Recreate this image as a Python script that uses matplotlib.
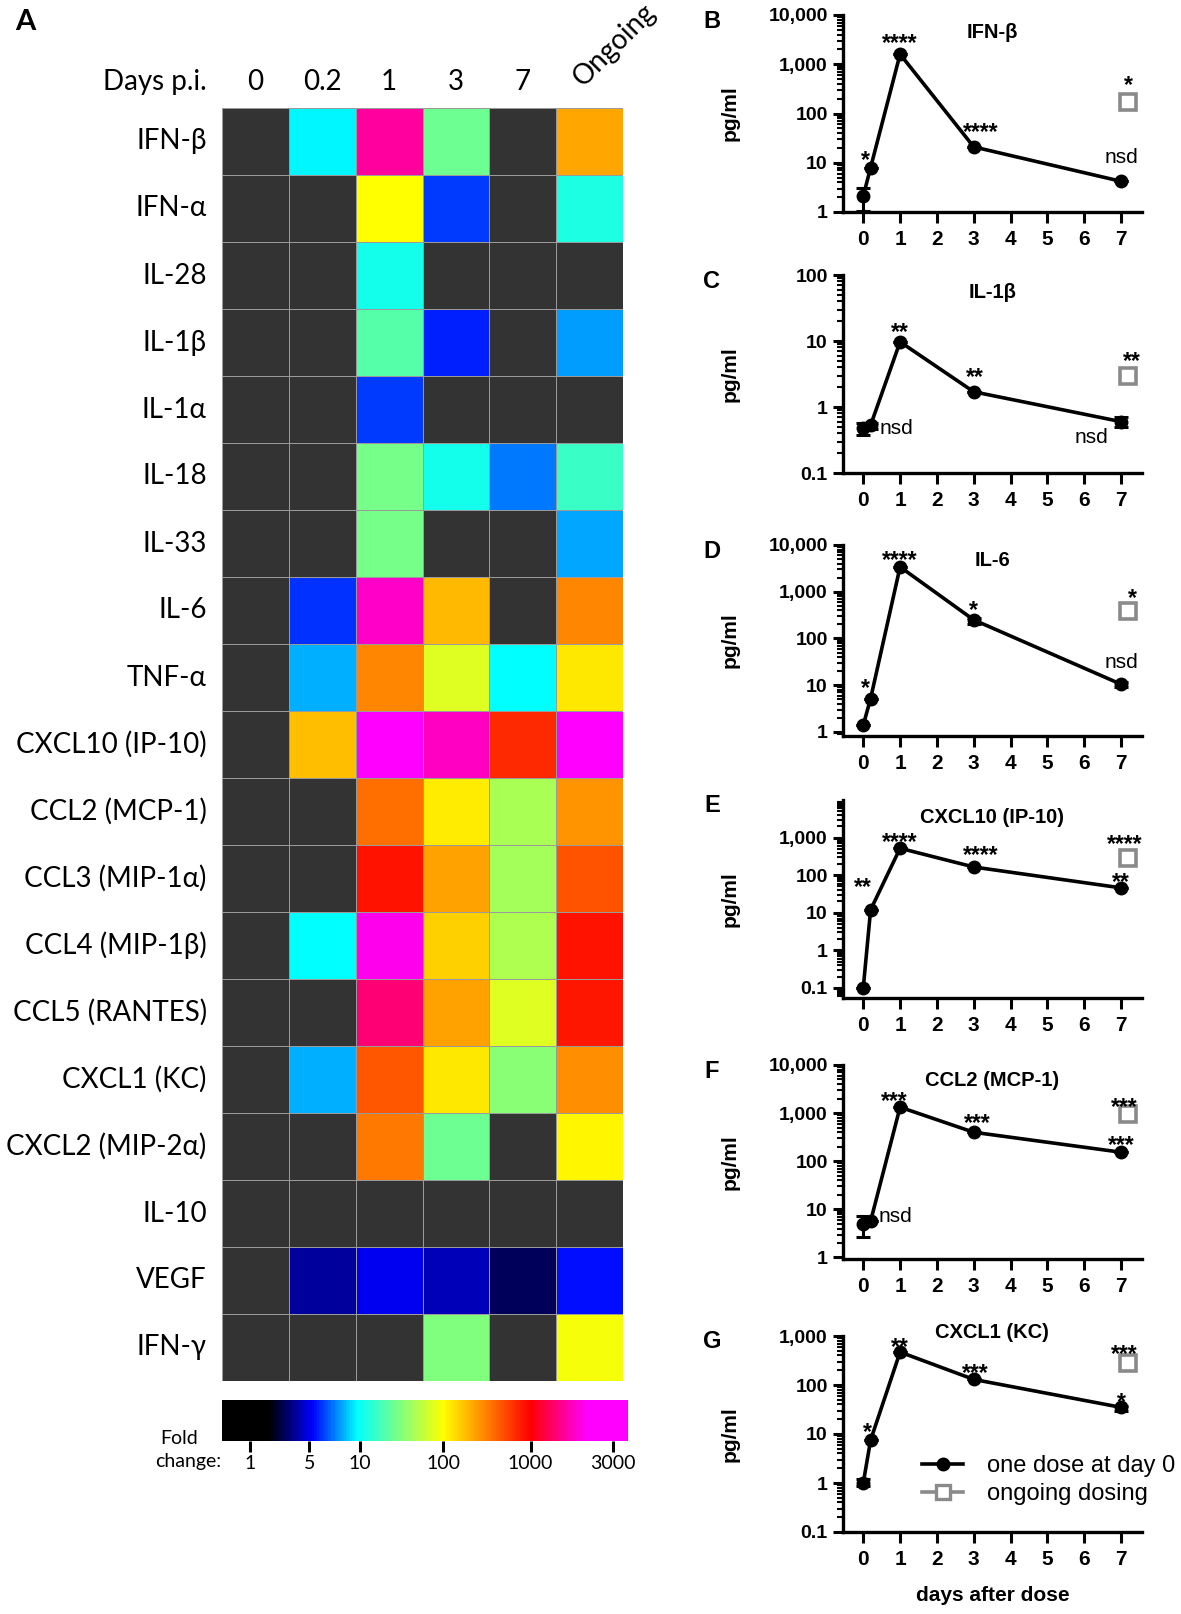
import numpy as np
import matplotlib
matplotlib.use("Agg")
import matplotlib.pyplot as plt
import matplotlib.colors as mcolors
import matplotlib.cm as cm
from matplotlib.ticker import FixedLocator, NullFormatter
from matplotlib.lines import Line2D

plt.rcParams['font.family'] = ['Liberation Sans', 'DejaVu Sans']
HEAT_FONT = ['Lato', 'DejaVu Sans']

W, H = 1181, 1614

# ---------------- heatmap data (fold change, nan = not significant) ----------------
cytokines = ["IFN-β", "IFN-α", "IL-28", "IL-1β", "IL-1α", "IL-18", "IL-33", "IL-6",
             "TNF-α", "CXCL10 (IP-10)", "CCL2 (MCP-1)", "CCL3 (MIP-1α)", "CCL4 (MIP-1β)",
             "CCL5 (RANTES)", "CXCL1 (KC)", "CXCL2 (MIP-2α)", "IL-10", "VEGF", "IFN-γ"]
day_cols = ["0", "0.2", "1", "3", "7"]
nan = np.nan
fold_change = np.array([
    [nan, 9.5, 1600, 26, nan, 220],
    [nan, nan, 100, 6, nan, 12],
    [nan, nan, 11, nan, nan, nan],
    [nan, nan, 21, 5.6, nan, 7.6],
    [nan, nan, 6, nan, nan, nan],
    [nan, nan, 28, 11, 7.0, 16],
    [nan, nan, 28, nan, nan, 7.8],
    [nan, 5.9, 1800, 190, nan, 295],
    [nan, 8, 295, 75, 9.6, 125],
    [nan, 180, 3000, 1750, 690, 3000],
    [nan, nan, 370, 120, 45, 260],
    [nan, nan, 830, 235, 43, 465],
    [nan, 9.6, 2000, 150, 47, 830],
    [nan, nan, 1390, 235, 75, 800],
    [nan, 8, 445, 125, 33, 270],
    [nan, nan, 340, 26, nan, 108],
    [nan, nan, nan, nan, nan, nan],
    [nan, 3.5, 5.1, 4.0, 2.5, 5.4],
    [nan, nan, nan, 30, nan, 92],
])
cbar_ticks = [1, 5, 10, 100, 1000, 3000]

# colour scale: position along the bar for each fold change
knot_log = np.array([-0.3375, 0, np.log10(5), 1, 2, 3, np.log10(3000), 3.564])
knot_pos = np.array([0, 0.07, 0.215, 0.34, 0.545, 0.76, 0.963, 1.0])

# ---------------- line panels (pg/ml) ----------------
days = [0, 0.2, 1, 3, 7]
ongoing_day = 7.2

panels = [
    dict(letter="B", title="IFN-β",
         mean=[2.1, 8.0, 1600, 21, 4.2], low=[1.05, 8.0, 1600, 21, 4.2], high=[3.1, 8.0, 1600, 21, 4.2],
         ongoing=175, ylim=(1, 10000), yticks=[1, 10, 100, 1000, 10000],
         ylabels=["1", "10", "100", "1,000", "10,000"], box=(15, 212), title_y=0.91,
         notes=[(0.2, 8.0, "*", -0.15, 15), (1, 1600, "****", 0, 18), (3, 21, "****", 0.2, 22),
                (7, 4.2, "nsd", 0, 24), (ongoing_day, 175, "*", 0, 24)]),
    dict(letter="C", title="IL-1β",
         mean=[0.48, 0.53, 9.7, 1.7, 0.6], low=[0.37, 0.47, 9.7, 1.7, 0.5], high=[0.57, 0.57, 9.7, 1.7, 0.7],
         ongoing=2.9, ylim=(0.1, 100), yticks=[0.1, 1, 10, 100],
         ylabels=["0.1", "1", "10", "100"], box=(275, 473), title_y=0.91,
         notes=[(0.45, 0.53, "nsd", "left", -3), (1, 9.7, "**", 0, 17), (3, 1.7, "**", 0.04, 22),
                (6.65, 0.6, "nsd", "right", -15), (ongoing_day, 2.9, "**", 0.1, 22)]),
    dict(letter="D", title="IL-6",
         mean=[1.4, 5.2, 3400, 250, 10.5], low=[1.4, 5.2, 3400, 205, 9], high=[1.4, 5.2, 3400, 280, 12],
         ongoing=390, ylim=(0.82, 10000), yticks=[1, 10, 100, 1000, 10000],
         ylabels=["1", "10", "100", "1,000", "10,000"], box=(545, 736), title_y=0.92,
         notes=[(0.2, 5.2, "*", -0.15, 17), (1, 3400, "****", 0, 14), (3, 250, "*", 0, 17),
                (7, 10.5, "nsd", 0, 22), (ongoing_day, 390, "*", 0.1, 20)]),
    dict(letter="E", title="CXCL10 (IP-10)",
         mean=[0.1, 12, 520, 165, 46], low=[0.1, 12, 520, 165, 46], high=[0.1, 12, 520, 165, 46],
         ongoing=290, ylim=(0.054, 10000), yticks=[0.1, 1, 10, 100, 1000],
         ylabels=["0.1", "1", "10", "100", "1,000"], box=(800, 998), title_y=0.91,
         notes=[(0.2, 12, "**", -0.2, 30), (1, 520, "****", 0, 13), (3, 165, "****", 0.2, 19),
                (7, 46, "**", 0, 13), (ongoing_day, 290, "****", -0.1, 21)]),
    dict(letter="F", title="CCL2 (MCP-1)",
         mean=[4.9, 5.7, 1330, 400, 154], low=[2.7, 5.7, 1330, 400, 154], high=[7.2, 5.7, 1330, 400, 154],
         ongoing=960, ylim=(0.93, 10000), yticks=[1, 10, 100, 1000, 10000],
         ylabels=["1", "10", "100", "1,000", "10,000"], box=(1065, 1259), title_y=0.92,
         notes=[(0.41, 5.7, "nsd", "left", 5), (1, 1330, "***", -0.15, 13), (3, 400, "***", 0.1, 16),
                (7, 154, "***", 0, 14), (ongoing_day, 960, "***", -0.1, 14)]),
    dict(letter="G", title="CXCL1 (KC)",
         mean=[1.0, 7.5, 470, 130, 35], low=[0.85, 7.5, 470, 130, 29], high=[1.2, 7.5, 470, 130, 38],
         ongoing=280, ylim=(0.1, 1000), yticks=[0.1, 1, 10, 100, 1000],
         ylabels=["0.1", "1", "10", "100", "1,000"], box=(1336, 1532), title_y=1.02,
         notes=[(0.2, 7.5, "*", -0.1, 15), (1, 470, "**", 0, 12), (3, 130, "***", 0.05, 13),
                (7, 35, "*", 0, 12), (ongoing_day, 280, "***", -0.1, 16)]),
]


def px_axes(fig, left, top, right, bottom):
    return fig.add_axes([left / W, 1 - bottom / H, (right - left) / W, (bottom - top) / H])


fig = plt.figure(figsize=(W / 100, H / 100), dpi=100)

# ---------------- panel A: heatmap ----------------
cmap = mcolors.LinearSegmentedColormap.from_list("fold", [
    (0.0, "#000000"), (0.115, "#000000"), (0.222, "#0000ff"), (0.333, "#00ffff"),
    (0.545, "#ffff00"), (0.76, "#ff0000"), (0.9, "#ff00ff"), (1.0, "#ff00ff")])
cmap = cmap.with_extremes(bad="#333333")


def fwd(v):
    v = np.ma.filled(np.ma.asarray(v, dtype=float), np.nan)
    out = np.interp(np.log10(np.where(v > 0, v, 1e-6)), knot_log, knot_pos)
    return np.where(np.isnan(v), np.nan, out)


def inv(p):
    p = np.ma.filled(np.ma.asarray(p, dtype=float), np.nan)
    out = 10 ** np.interp(np.nan_to_num(p), knot_pos, knot_log)
    return np.where(np.isnan(p), np.nan, out)


norm = mcolors.FuncNorm((fwd, inv), vmin=10 ** knot_log[0], vmax=10 ** knot_log[-1])

ax_h = px_axes(fig, 222, 108, 623, 1381)
n_rows, n_cols = fold_change.shape
ax_h.pcolormesh(np.arange(n_cols + 1), np.arange(n_rows + 1), np.ma.masked_invalid(fold_change),
                cmap=cmap, norm=norm, edgecolors="#9a9a9a", linewidth=0.7)
ax_h.set_xlim(0, n_cols)
ax_h.set_ylim(n_rows, 0)
ax_h.set_xticks([])
ax_h.set_yticks([])
for s in ax_h.spines.values():
    s.set_visible(False)

for i, name in enumerate(cytokines):
    ax_h.text(-0.23, i + 0.5, name, ha="right", va="center", fontsize=20, family=HEAT_FONT)
for j, lab in enumerate(day_cols):
    ax_h.text(j + 0.5, -0.27, lab, ha="center", va="baseline", fontsize=20, family=HEAT_FONT)
ax_h.text(-0.23, -0.27, "Days p.i.", ha="right", va="baseline", fontsize=20, family=HEAT_FONT)
ax_h.text(5.4, -0.3, "Ongoing", ha="left", va="baseline", rotation=45,
          rotation_mode="anchor", fontsize=20, family=HEAT_FONT)
fig.text(25 / W, 1 - 22 / H, "A", fontsize=21, fontweight="bold", ha="center", va="center",
         family=HEAT_FONT)

cax = px_axes(fig, 222, 1400, 628, 1441)
cb = fig.colorbar(cm.ScalarMappable(norm=norm, cmap=cmap), cax=cax, orientation="horizontal")
cb.outline.set_visible(False)
cb.set_ticks(cbar_ticks)
cb.set_ticklabels([str(t) for t in cbar_ticks])
cax.minorticks_off()
cax.tick_params(axis="x", length=8, width=2.2, pad=2, labelsize=14)
for t in cax.get_xticklabels():
    t.set_family(HEAT_FONT)
fig.text(160 / W, 1 - 1438 / H, "Fold", fontsize=14, ha="left", va="center", family=HEAT_FONT)
fig.text(155 / W, 1 - 1462 / H, "change:", fontsize=14, ha="left", va="center", family=HEAT_FONT)

# ---------------- panels B-G ----------------
for p in panels:
    top, bottom = p["box"]
    ax = px_axes(fig, 843, top, 1142, bottom)
    ax.set_yscale("log")
    lo = np.array(p["mean"]) - np.array(p["low"])
    hi = np.array(p["high"]) - np.array(p["mean"])
    ax.errorbar(days, p["mean"], yerr=[lo, hi], color="black", lw=2.6, marker="o", ms=9,
                capsize=5, capthick=2.2, elinewidth=2.2, zorder=3, clip_on=False)
    ax.plot([ongoing_day], [p["ongoing"]], marker="s", ms=12, mfc="white", mec="#8a8a8a",
            mew=2.6, ls="none", zorder=3, clip_on=False)
    ax.set_xlim(-0.55, 7.57)
    ax.set_ylim(*p["ylim"])
    ax.yaxis.set_major_locator(FixedLocator(p["yticks"]))
    ax.set_yticklabels(p["ylabels"])
    lo_dec = int(np.floor(np.log10(p["ylim"][0])))
    hi_dec = int(np.ceil(np.log10(p["ylim"][1])))
    minors = [m * 10.0 ** d for d in range(lo_dec, hi_dec) for m in range(2, 10)]
    minors = [m for m in minors if p["ylim"][0] <= m <= p["ylim"][1]]
    ax.yaxis.set_minor_locator(FixedLocator(minors))
    ax.yaxis.set_minor_formatter(NullFormatter())
    ax.set_xticks(range(8))
    for side in ("top", "right"):
        ax.spines[side].set_visible(False)
    for side in ("left", "bottom"):
        ax.spines[side].set_linewidth(2.4)
    ax.tick_params(axis="y", which="major", length=7, width=2.2, labelsize=14, pad=4)
    ax.tick_params(axis="x", which="major", length=8, width=2.2, labelsize=15, pad=5)
    ax.tick_params(axis="y", which="minor", length=4, width=1.5)
    for t in ax.get_xticklabels() + ax.get_yticklabels():
        t.set_fontweight("bold")
    ax.set_ylabel("pg/ml", fontsize=15, fontweight="bold")
    ax.yaxis.set_label_coords((740 - 843) / 299, 0.5)
    ax.text(3.5, p["title_y"], p["title"], transform=ax.get_xaxis_transform(), ha="center",
            va="center", fontsize=14.5, fontweight="bold")
    for x, y, txt, dx, dy in p["notes"]:
        if txt == "nsd":
            ha = dx if isinstance(dx, str) else "center"
            xx = x + (dx if not isinstance(dx, str) else 0)
            ax.annotate(txt, (xx, y), xytext=(0, (dy - 6) * 0.72), textcoords="offset points",
                        ha=ha, va="baseline", fontsize=15, annotation_clip=False)
        else:
            ax.annotate(txt, (x + dx, y), xytext=(0, (dy - 14) * 0.72), textcoords="offset points",
                        ha="center", va="baseline", fontsize=16.5, fontweight="bold",
                        annotation_clip=False)
    fig.text(712 / W, 1 - (top + 6) / H, p["letter"], fontsize=17, fontweight="bold",
             ha="center", va="center")
    last_ax = ax

last_ax.set_xlabel("days after dose", fontsize=15, fontweight="bold", labelpad=12)
handles = [Line2D([], [], color="black", lw=2.6, marker="o", ms=9),
           Line2D([], [], color="#8a8a8a", lw=2.6, marker="s", ms=10, mfc="white", mew=2.4)]
last_ax.legend(handles, ["one dose at day 0", "ongoing dosing"], loc="center left",
               bbox_to_anchor=(0.264, 0.265), frameon=False, fontsize=17, handlelength=1.75,
               handletextpad=1.0, labelspacing=0.25, borderaxespad=0, borderpad=0)

fig.savefig("out.png", dpi=100)
